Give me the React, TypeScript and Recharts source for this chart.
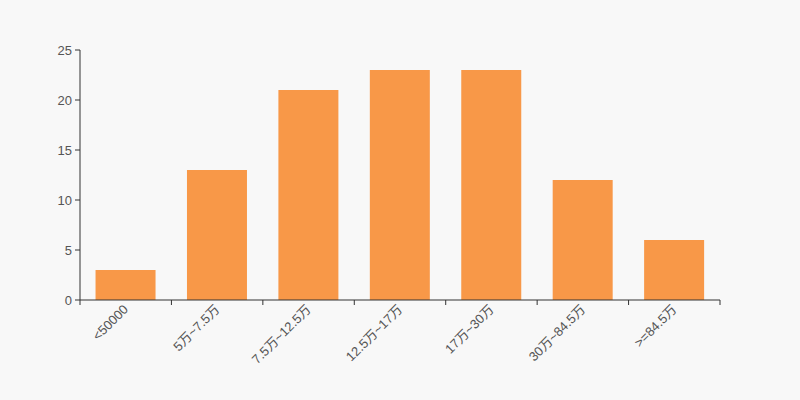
import { BarChart, Bar, XAxis, YAxis } from "recharts";

const categories = ["<50000", "5万~7.5万", "7.5万~12.5万", "12.5万~17万", "17万~30万", "30万~84.5万", ">=84.5万"];
const counts = [3, 13, 21, 23, 23, 12, 6];
const yTicks = [0, 5, 10, 15, 20, 25];

const data = categories.map((name, i) => ({ name, value: counts[i] }));

const W = 800;
const H = 400;
const LEFT = 80;
const RIGHT = 80;
const BAND = (W - LEFT - RIGHT) / categories.length;

function CategoryTick(props: any) {
  const { x, y, payload, index } = props;
  return (
    <g>
      <line x1={x - BAND / 2} y1={y - 8} x2={x - BAND / 2} y2={y - 3} stroke="#333" />
      {index === categories.length - 1 && (
        <line x1={x + BAND / 2} y1={y - 8} x2={x + BAND / 2} y2={y - 3} stroke="#333" />
      )}
      <g transform={`translate(${x},${y - 1})`}>
        <text x={0} y={0} dy="0.35em" textAnchor="end" fill="#555" fontSize={13} transform="rotate(-45)">
          {payload.value}
        </text>
      </g>
    </g>
  );
}

export default function App() {
  return (
    <div style={{ position: "absolute", left: 0, top: 0, width: W, height: H, background: "#f8f8f8" }}>
      <BarChart
        width={W}
        height={H}
        data={data}
        margin={{ top: 50, right: RIGHT, left: 0, bottom: 0 }}
        barCategoryGap="17%"
        style={{ fontFamily: "'Liberation Sans', 'Noto Sans CJK SC', sans-serif" }}
      >
        <XAxis
          dataKey="name"
          height={100}
          interval={0}
          tickLine={false}
          axisLine={{ stroke: "#333" }}
          tick={<CategoryTick />}
        />
        <YAxis
          width={LEFT}
          domain={[0, 25]}
          ticks={yTicks}
          axisLine={{ stroke: "#333" }}
          tickLine={{ stroke: "#333" }}
          tickSize={5}
          tickMargin={3}
          tick={{ fill: "#555", fontSize: 13 }}
        />
        <Bar dataKey="value" fill="#f89848" isAnimationActive={false} />
      </BarChart>
    </div>
  );
}
